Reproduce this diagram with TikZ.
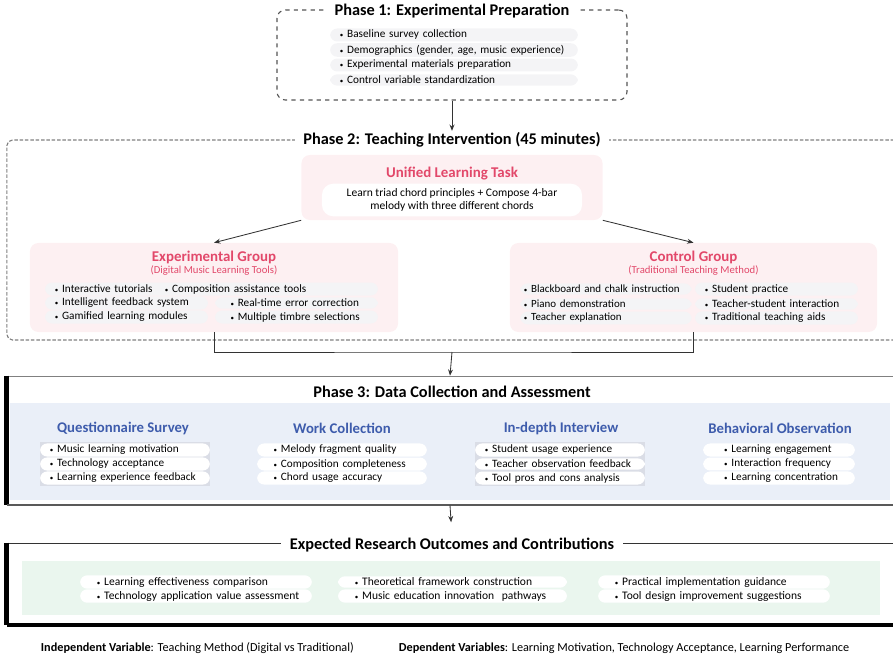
\documentclass[tikz,border=0pt]{standalone}
\usepackage{fontspec}
\setmainfont{Carlito}
\usetikzlibrary{positioning,arrows.meta,calc}
\definecolor{rmpink}{RGB}{253,240,242}
\definecolor{rmred}{RGB}{226,72,106}
\definecolor{rmblue}{RGB}{62,92,172}
\definecolor{rmbluebg}{RGB}{234,239,248}
\definecolor{rmgreenbg}{RGB}{234,246,238}
\definecolor{rmpill}{RGB}{244,244,246}
\definecolor{rmcolbg}{RGB}{218,221,230}
\definecolor{rmdash}{RGB}{85,85,85}
\newcommand{\bul}{{\fontsize{5}{5}\selectfont\textbullet}\ }
\newcommand{\itemsize}{\fontsize{8}{9.5}\selectfont}
\tikzset{
  phasetitle/.style={fill=white, font=\bfseries\fontsize{11.6}{13}\selectfont, inner xsep=6pt, inner ysep=1pt},
  dashbox/.style={draw=rmdash, dashed, thick, rounded corners=6pt},
  dotbox/.style={draw=gray, dash pattern=on 2.5pt off 1.3pt, thick, rounded corners=4pt},
  groupbox/.style={fill=rmpink, rounded corners=6pt},
  grouptitle/.style={text=rmred, font=\bfseries\fontsize{10.6}{12}\selectfont},
  subtitle/.style={text=rmred, font=\fontsize{7.6}{9}\selectfont},
  pill/.style={fill=rmpill, rounded corners=5pt, inner xsep=7pt, inner ysep=1.2pt, text width=#1, align=left, font=\itemsize},
  item/.style={pill=#1, fill=white},
  heading/.style={text=rmblue, font=\bfseries\fontsize{10.5}{12}\selectfont},
  outitem/.style={pill=#1, fill=white, font=\fontsize{8.2}{9.5}\selectfont},
  arrow/.style={-{Stealth[length=4.5pt,width=3.5pt]}, semithick, black!80},
  link/.style={semithick, black!80}
}

\begin{document}
\begin{tikzpicture}[x=0.025cm, y=-0.025cm]
  \useasboundingbox (0,0) rectangle (893,657);

  % phase 1
  \node[dashbox, minimum width=8.75cm, minimum height=2.25cm] (phase1) at (452,55) {};
  \node[phasetitle] (ph1) at (452,11) {Phase 1: Experimental Preparation};
  \foreach \txt [count=\i] in {Baseline survey collection, {Demographics (gender, age, music experience)}, Experimental materials preparation, Control variable standardization}
    \node[pill=5.7cm] (prep\i) at (454,{20+15*\i}) {\bul\txt};

  % phase 2
  \node[dotbox, minimum width=22.45cm, minimum height=5cm] (phase2) at (456,240) {};
  \node[phasetitle] (ph2) at (452,140) {Phase 2: Teaching Intervention (45 minutes)};
  \draw[arrow] (phase1.south) -- (ph2.north);

  \node[groupbox, minimum width=7.525cm, minimum height=1.625cm] (task) at (452,187.5) {};
  \node[grouptitle] (tasktitle) at (452,174) {Unified Learning Task};
  \node[fill=white, rounded corners=8pt, minimum width=6.5cm, minimum height=0.675cm, align=center, font=\fontsize{8.2}{9.5}\selectfont] (taskpill) at (452,200)
    {Learn triad chord principles + Compose 4-bar\\melody with three different chords};

  \node[groupbox, minimum width=9.2cm, minimum height=2.225cm] (exp) at (214,287.5) {};
  \node[grouptitle] (exptitle) at (214,257) {Experimental Group};
  \node[subtitle] (expsub) at (214,271) {(Digital Music Learning Tools)};
  \node[pill=7.83cm] (exp1) at (211.5,289) {\bul Interactive tutorials\hspace{1.1em}\bul Composition assistance tools};
  \node[pill=3.58cm] (exp2) at (126.5,303) {\bul Intelligent feedback system};
  \node[pill=3.58cm] (exp3) at (296.5,303) {\hspace{0.5em}\bul Real-time error correction};
  \node[pill=3.58cm] (exp4) at (126.5,317) {\bul Gamified learning modules};
  \node[pill=3.58cm] (exp5) at (296.5,317) {\hspace{0.5em}\bul Multiple timbre selections};

  \node[groupbox, minimum width=9.175cm, minimum height=2.225cm] (ctl) at (693.5,287.5) {};
  \node[grouptitle] (ctltitle) at (693.5,257) {Control Group};
  \node[subtitle] (ctlsub) at (693.5,271) {(Traditional Teaching Method)};
  \node[pill=4.1cm, inner xsep=2.5pt, font=\fontsize{7.8}{9.5}\selectfont] (ctl1) at (606,289) {\bul Blackboard and chalk instruction};
  \node[pill=3.58cm] (ctl2) at (776.5,289) {\bul Student practice};
  \node[pill=4.1cm, inner xsep=2.5pt, font=\fontsize{7.8}{9.5}\selectfont] (ctl3) at (606,304) {\bul Piano demonstration};
  \node[pill=3.58cm] (ctl4) at (776.5,304) {\bul Teacher-student interaction};
  \node[pill=4.1cm, inner xsep=2.5pt, font=\fontsize{7.8}{9.5}\selectfont] (ctl5) at (606,318) {\bul Teacher explanation};
  \node[pill=3.58cm] (ctl6) at (776.5,318) {\bul Traditional teaching aids};

  \draw[arrow] (task.south west) -- (exp.north);
  \draw[arrow] (task.south east) -- (ctl.north);
  \coordinate (merge) at (452,352);
  \draw[link] (exp.south) |- (merge) -| (ctl.south);

  % phase 3
  \node[draw=gray, minimum width=22.15cm, minimum height=3.225cm] (phase3) at (450,440.5) {};
  \node[fill=rmbluebg, minimum width=22cm, minimum height=2.425cm] (ph3bg) at (450,451.5) {};
  \draw[line width=3pt] (phase3.north west) -- (phase3.south west);
  \draw[line width=1.5pt, black!65] (phase3.south west) -- (phase3.south east);
  \node[font=\bfseries\fontsize{11.6}{13}\selectfont] (ph3title) at (452,392) {Phase 3: Data Collection and Assessment};
  \draw[arrow] (merge) -- (phase3.north);

  \node[heading] (qs) at (123,428) {Questionnaire Survey};
  \node[heading] (wc) at (342,428) {Work Collection};
  \node[heading] (ii) at (561,428) {In-depth Interview};
  \node[heading] (bo) at (780,428) {Behavioral Observation};
  \node[fill=rmcolbg, minimum width=4.25cm, minimum height=1.1cm] (qsbg) at (125,464) {};
  \node[fill=rmcolbg, minimum width=4.25cm, minimum height=1.1cm] (iibg) at (560,464) {};
  \foreach \txt [count=\i] in {Music learning motivation, Technology acceptance, Learning experience feedback}
    \node[item=3.75cm] (qs\i) at (125,{436+14*\i}) {\bul\txt};
  \foreach \txt [count=\i] in {Melody fragment quality, Composition completeness, Chord usage accuracy}
    \node[item=3.75cm] (wc\i) at (342,{436+14*\i}) {\hspace{0.6em}\bul\txt};
  \foreach \txt [count=\i] in {Student usage experience, Teacher observation feedback, Tool pros and cons analysis}
    \node[item=3.75cm] (ii\i) at (560,{436+14*\i}) {\bul\txt};
  \foreach \txt [count=\i] in {Learning engagement, Interaction frequency, Learning concentration}
    \node[item=3.3cm] (bo\i) at (779,{436+14*\i}) {\hspace{1em}\bul\txt};

  % outcomes
  \node[draw=black!80, minimum width=22.15cm, minimum height=2.05cm] (outcome) at (450,584) {};
  \node[fill=rmgreenbg, minimum width=21.45cm, minimum height=1.35cm] (outbg) at (451,588) {};
  \draw[line width=3pt] (outcome.north west) -- (outcome.south west);
  \draw[line width=3pt] (outcome.south west) -- (outcome.south east);
  \node[phasetitle] (outtitle) at (452,545) {Expected Research Outcomes and Contributions};
  \draw[arrow, shorten >=10pt] (phase3.south) -- (outtitle.north);

  \node[outitem=5.3cm] (out1) at (196,582) {\hspace{0.6em}\bul Learning effectiveness comparison};
  \node[outitem=5.3cm] (out2) at (196,596) {\hspace{0.6em}\bul Technology application value assessment};
  \node[outitem=5.23cm] (out3) at (452.5,582) {\hspace{0.6em}\bul Theoretical framework construction};
  \node[outitem=5.23cm] (out4) at (452.5,596) {\hspace{0.6em}\bul Music education innovation\ \ pathways};
  \node[outitem=5.3cm] (out5) at (714,582) {\hspace{0.6em}\bul Practical implementation guidance};
  \node[outitem=5.3cm] (out6) at (714,596) {\hspace{0.6em}\bul Tool design improvement suggestions};

  % variables
  \node[anchor=west, font=\fontsize{8.7}{10}\selectfont] (indep) at (36,648) {\textbf{Independent Variable}: Teaching Method (Digital vs Traditional)};
  \node[anchor=west, font=\fontsize{8.7}{10}\selectfont] (dep) at (394,648) {\textbf{Dependent Variables}: Learning Motivation, Technology Acceptance, Learning Performance};
\end{tikzpicture}
\end{document}
